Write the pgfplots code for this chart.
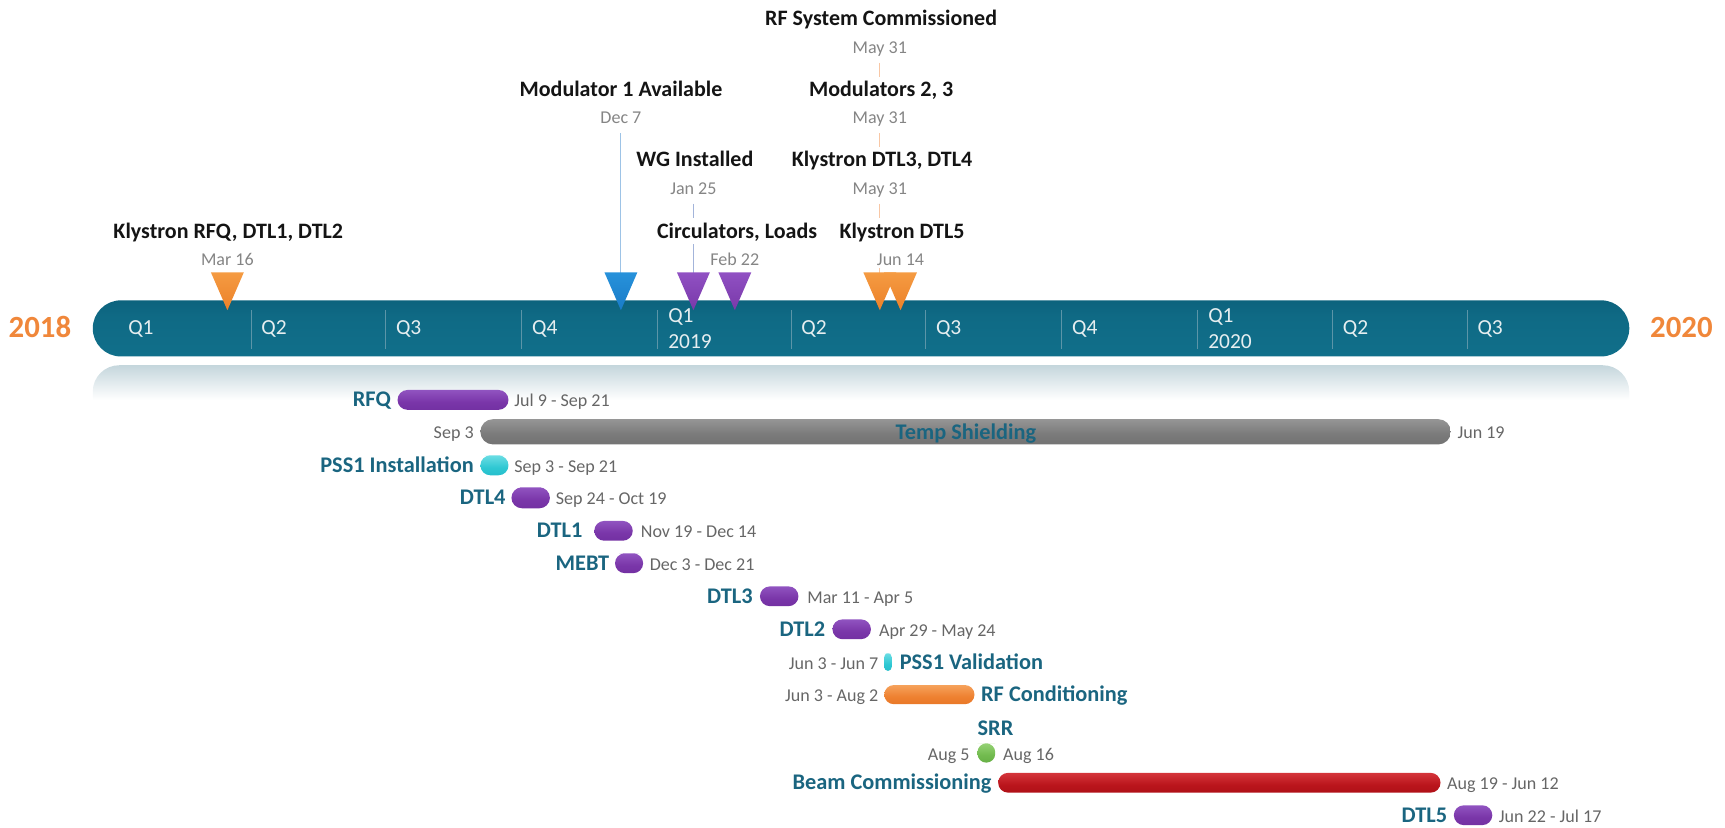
\documentclass[border=0pt]{standalone}
\usepackage{fontspec}
\setmainfont{Carlito}
\usepackage{pgfplots}
\pgfplotsset{compat=1.18}

% colours
\definecolor{tlE}{HTML}{0C5F7A}
\definecolor{tlL}{HTML}{11718C}
\definecolor{tlM}{HTML}{0F6A85}
\definecolor{tlD}{HTML}{0A5770}
\definecolor{reflC}{HTML}{8AADBA}
\definecolor{sepC}{HTML}{5C95A8}
\definecolor{qC}{HTML}{E6EEF0}
\definecolor{yearC}{HTML}{F0873A}
\definecolor{labC}{HTML}{141414}
\definecolor{dTop}{HTML}{858585}
\definecolor{dLow}{HTML}{666666}
\definecolor{taskC}{HTML}{1A6580}
\definecolor{lnB}{HTML}{9DC3E6}
\definecolor{lnP}{HTML}{A3B4DA}
\definecolor{lnO}{HTML}{F8C7A5}
\definecolor{purD}{HTML}{6A2A9A}
\definecolor{purM}{HTML}{7A36A9}
\definecolor{purL}{HTML}{9458C4}
\definecolor{gryD}{HTML}{6A6A6A}
\definecolor{gryM}{HTML}{7A7A7A}
\definecolor{gryL}{HTML}{9A9A9A}
\definecolor{cyD}{HTML}{1AB3C2}
\definecolor{cyM}{HTML}{2FC8D3}
\definecolor{cyL}{HTML}{74E0E6}
\definecolor{orD}{HTML}{E26F1C}
\definecolor{orM}{HTML}{EE8131}
\definecolor{orL}{HTML}{F7A762}
\definecolor{redD}{HTML}{A30C12}
\definecolor{redM}{HTML}{BA151C}
\definecolor{redL}{HTML}{D93A40}
\definecolor{grD}{HTML}{5AA23A}
\definecolor{grM}{HTML}{72BB4F}
\definecolor{grL}{HTML}{9AD57A}
\definecolor{toL}{HTML}{F9A84F}
\definecolor{toD}{HTML}{E8741C}
\definecolor{tbL}{HTML}{2E9DE4}
\definecolor{tbD}{HTML}{1270BE}
\definecolor{tpL}{HTML}{9D5DD0}
\definecolor{tpD}{HTML}{6C2C9C}

\pgfdeclareverticalshading{tlS}{100bp}{color(0bp)=(tlE); color(12bp)=(tlL); color(60bp)=(tlM); color(100bp)=(tlD)}
\pgfdeclareverticalshading{reflS}{100bp}{color(0bp)=(white); color(50bp)=(white); color(100bp)=(reflC)}
\pgfdeclareverticalshading{purS}{100bp}{color(0bp)=(purD); color(45bp)=(purM); color(80bp)=(purL); color(100bp)=(purM)}
\pgfdeclareverticalshading{gryS}{100bp}{color(0bp)=(gryD); color(45bp)=(gryM); color(80bp)=(gryL); color(100bp)=(gryM)}
\pgfdeclareverticalshading{cyS}{100bp}{color(0bp)=(cyD); color(45bp)=(cyM); color(80bp)=(cyL); color(100bp)=(cyM)}
\pgfdeclareverticalshading{orS}{100bp}{color(0bp)=(orD); color(45bp)=(orM); color(80bp)=(orL); color(100bp)=(orM)}
\pgfdeclareverticalshading{redS}{100bp}{color(0bp)=(redD); color(45bp)=(redM); color(80bp)=(redL); color(100bp)=(redM)}
\pgfdeclareverticalshading{grS}{100bp}{color(0bp)=(grD); color(45bp)=(grM); color(80bp)=(grL); color(100bp)=(grM)}
\pgfdeclareverticalshading{toS}{100bp}{color(0bp)=(toD); color(100bp)=(toL)}
\pgfdeclareverticalshading{tbS}{100bp}{color(0bp)=(tbD); color(100bp)=(tbL)}
\pgfdeclareverticalshading{tpS}{100bp}{color(0bp)=(tpD); color(100bp)=(tpL)}

\newcommand\fMile{\fontsize{20}{24}\selectfont\bfseries}
\newcommand\fDate{\fontsize{16.4}{20}\selectfont}
\newcommand\fTask{\fontsize{20.3}{24}\selectfont\bfseries}
\newcommand\fQ{\fontsize{19.5}{23}\selectfont}
\newcommand\fYear{\fontsize{28}{32}\selectfont\bfseries}

\tikzset{lb/.style={inner sep=0pt, outer sep=0pt},
  ml/.style={lb, font=\fMile, text=labC, anchor=mid},
  md/.style={lb, font=\fDate, text=dTop, anchor=mid},
  tl/.style={lb, font=\fTask, text=taskC},
  td/.style={lb, font=\fDate, text=dLow},
  ql/.style={lb, font=\fQ, text=qC, anchor=mid west}}

\begin{document}
\begin{tikzpicture}
\begin{axis}[width=1568pt, height=752pt, scale only axis,
  xmin=-79.7, xmax=1086.3, ymin=0, ymax=752, y dir=reverse,
  hide axis, clip=false]

% x = days since 1 Jan 2018, y = vertical position (top = 0)

% reflection under the timeline
\addplot[draw=none, shade, shading=reflS, rounded corners=24pt]
  coordinates {(500,332) (1021.6,332) (1021.6,395) (-17,395) (-17,332)} -- cycle;
% timeline bar
\addplot[draw=none, shade, shading=tlS, rounded corners=25.5pt]
  coordinates {(500,273) (1021.6,273) (1021.6,324) (-17,324) (-17,273)} -- cycle;

% quarter separators
\addplot[sepC, line width=1pt] coordinates {(90,282) (90,317)};
\addplot[sepC, line width=1pt] coordinates {(181,282) (181,317)};
\addplot[sepC, line width=1pt] coordinates {(273,282) (273,317)};
\addplot[sepC, line width=1pt] coordinates {(365,282) (365,317)};
\addplot[sepC, line width=1pt] coordinates {(455,282) (455,317)};
\addplot[sepC, line width=1pt] coordinates {(546,282) (546,317)};
\addplot[sepC, line width=1pt] coordinates {(638,282) (638,317)};
\addplot[sepC, line width=1pt] coordinates {(730,282) (730,317)};
\addplot[sepC, line width=1pt] coordinates {(821,282) (821,317)};
\addplot[sepC, line width=1pt] coordinates {(912,282) (912,317)};

% quarter labels
\node[ql] at (axis cs:7,302) {Q1};
\node[ql] at (axis cs:97,302) {Q2};
\node[ql] at (axis cs:188,302) {Q3};
\node[ql] at (axis cs:280,302) {Q4};
\node[ql] at (axis cs:372,291) {Q1};
\node[ql] at (axis cs:372,314) {2019};
\node[ql] at (axis cs:462,302) {Q2};
\node[ql] at (axis cs:553,302) {Q3};
\node[ql] at (axis cs:645,302) {Q4};
\node[ql] at (axis cs:737,291) {Q1};
\node[ql] at (axis cs:737,314) {2020};
\node[ql] at (axis cs:828,302) {Q2};
\node[ql] at (axis cs:919,302) {Q3};

% years
\node[lb, font=\fYear, text=yearC, anchor=mid west] at (axis cs:-73.8,304) {2018};
\node[lb, font=\fYear, text=yearC, anchor=mid west] at (axis cs:1035.7,304) {2020};

% leader lines
\addplot[lnB, line width=1pt] coordinates {(340,121) (340,252)};
\addplot[lnP, line width=1pt] coordinates {(389,185) (389,198)};
\addplot[lnP, line width=1pt] coordinates {(389,222) (389,252)};
\addplot[lnO, line width=1pt] coordinates {(515,57) (515,70)};
\addplot[lnO, line width=1pt] coordinates {(515,121) (515,134)};
\addplot[lnO, line width=1pt] coordinates {(515,185) (515,198)};
\addplot[lnO, line width=1pt] coordinates {(515,244) (515,252)};

% milestone triangles
\addplot[draw=none, shade, shading=toS] coordinates {(62.85,247.5) (85.15,247.5) (74,282)} -- cycle;
\addplot[draw=none, shade, shading=tbS] coordinates {(328.85,247.5) (351.15,247.5) (340,282)} -- cycle;
\addplot[draw=none, shade, shading=tpS] coordinates {(377.85,247.5) (400.15,247.5) (389,282)} -- cycle;
\addplot[draw=none, shade, shading=tpS] coordinates {(405.85,247.5) (428.15,247.5) (417,282)} -- cycle;
\addplot[draw=none, shade, shading=toS] coordinates {(503.85,247.5) (526.15,247.5) (515,282)} -- cycle;
\addplot[draw=none, shade, shading=toS] coordinates {(517.85,247.5) (540.15,247.5) (529,282)} -- cycle;

% milestone labels
\node[ml] at (axis cs:515.9,21) {RF System Commissioned};
\node[md] at (axis cs:515,46) {May 31};
\node[ml] at (axis cs:340,85) {Modulator 1 Available};
\node[md] at (axis cs:340,110) {Dec 7};
\node[ml] at (axis cs:515.9,85) {Modulators 2, 3};
\node[md] at (axis cs:515,110) {May 31};
\node[ml] at (axis cs:390,149) {WG Installed};
\node[md] at (axis cs:389,174) {Jan 25};
\node[ml] at (axis cs:516.5,149) {Klystron DTL3, DTL4};
\node[md] at (axis cs:515,174) {May 31};
\node[ml] at (axis cs:74.6,214) {Klystron RFQ, DTL1, DTL2};
\node[md] at (axis cs:74,238.5) {Mar 16};
\node[ml] at (axis cs:418.5,214) {Circulators, Loads};
\node[md] at (axis cs:417,238.5) {Feb 22};
\node[ml] at (axis cs:530,214) {Klystron DTL5};
\node[md] at (axis cs:529,238.5) {Jun 14};

% task bars
\addplot[draw=none, shade, shading=purS, rounded corners=9pt]
  coordinates {(226.5,354.5) (264,354.5) (264,372.5) (189,372.5) (189,354.5)} -- cycle;
\addplot[draw=none, shade, shading=gryS, rounded corners=11.5pt]
  coordinates {(573,381) (901,381) (901,404) (245,404) (245,381)} -- cycle;
\addplot[draw=none, shade, shading=cyS, rounded corners=9pt]
  coordinates {(254.5,414) (264,414) (264,432) (245,432) (245,414)} -- cycle;
\addplot[draw=none, shade, shading=purS, rounded corners=9.5pt]
  coordinates {(279,443) (292,443) (292,462) (266,462) (266,443)} -- cycle;
\addplot[draw=none, shade, shading=purS, rounded corners=9pt]
  coordinates {(335,473.5) (348,473.5) (348,491.5) (322,491.5) (322,473.5)} -- cycle;
\addplot[draw=none, shade, shading=purS, rounded corners=9pt]
  coordinates {(345.5,503) (355,503) (355,521) (336,521) (336,503)} -- cycle;
\addplot[draw=none, shade, shading=purS, rounded corners=9pt]
  coordinates {(447,533) (460,533) (460,551) (434,551) (434,533)} -- cycle;
\addplot[draw=none, shade, shading=purS, rounded corners=9pt]
  coordinates {(496,563) (509,563) (509,581) (483,581) (483,563)} -- cycle;
\addplot[draw=none, shade, shading=cyS, rounded corners=3.3pt]
  coordinates {(520.5,593.8) (523,593.8) (523,609.8) (518,609.8) (518,593.8)} -- cycle;
\addplot[draw=none, shade, shading=orS, rounded corners=8.7pt]
  coordinates {(548.5,622.7) (579,622.7) (579,640.1) (518,640.1) (518,622.7)} -- cycle;
\addplot[draw=none, shade, shading=grS, rounded corners=8pt]
  coordinates {(587,675.8) (593,675.8) (593,693.2) (581,693.2) (581,675.8)} -- cycle;
\addplot[draw=none, shade, shading=redS, rounded corners=9pt]
  coordinates {(744.5,702.5) (894,702.5) (894,720.5) (595,720.5) (595,702.5)} -- cycle;
\addplot[draw=none, shade, shading=purS, rounded corners=9pt]
  coordinates {(916,732) (929,732) (929,750) (903,750) (903,732)} -- cycle;

% task labels and dates
\node[tl, anchor=mid east] at (axis cs:184.5,367) {RFQ};
\node[td, anchor=mid west] at (axis cs:268,367) {Jul 9 - Sep 21};
\node[td, anchor=mid east] at (axis cs:240.5,396.5) {Sep 3};
\node[tl, anchor=mid] at (axis cs:573.2,397) {Temp Shielding};
\node[td, anchor=mid west] at (axis cs:905.5,396.5) {Jun 19};
\node[tl, anchor=mid east] at (axis cs:240.5,427) {PSS1 Installation};
\node[td, anchor=mid west] at (axis cs:268,427) {Sep 3 - Sep 21};
\node[tl, anchor=mid east] at (axis cs:262,456.5) {DTL4};
\node[td, anchor=mid west] at (axis cs:296,456.5) {Sep 24 - Oct 19};
\node[tl, anchor=mid east] at (axis cs:314,486.5) {DTL1};
\node[td, anchor=mid west] at (axis cs:353.5,486.5) {Nov 19 - Dec 14};
\node[tl, anchor=mid east] at (axis cs:332,516) {MEBT};
\node[td, anchor=mid west] at (axis cs:359.5,516) {Dec 3 - Dec 21};
\node[tl, anchor=mid east] at (axis cs:429,546) {DTL3};
\node[td, anchor=mid west] at (axis cs:466,546) {Mar 11 - Apr 5};
\node[tl, anchor=mid east] at (axis cs:478,576) {DTL2};
\node[td, anchor=mid west] at (axis cs:514.5,576) {Apr 29 - May 24};
\node[td, anchor=mid east] at (axis cs:514,605.8) {Jun 3 - Jun 7};
\node[tl, anchor=mid west] at (axis cs:528.5,605.8) {PSS1 Validation};
\node[td, anchor=mid east] at (axis cs:514,635.4) {Jun 3 - Aug 2};
\node[tl, anchor=mid west] at (axis cs:583.5,635.4) {RF Conditioning};
\node[tl, anchor=mid] at (axis cs:593.2,666) {SRR};
\node[td, anchor=mid east] at (axis cs:575.6,688.5) {Aug 5};
\node[td, anchor=mid west] at (axis cs:598.4,688.5) {Aug 16};
\node[tl, anchor=mid east] at (axis cs:590.5,715.5) {Beam Commissioning};
\node[td, anchor=mid west] at (axis cs:898.5,715.5) {Aug 19 - Jun 12};
\node[tl, anchor=mid east] at (axis cs:898.5,745) {DTL5};
\node[td, anchor=mid west] at (axis cs:933.5,745) {Jun 22 - Jul 17};

\end{axis}
\pgfresetboundingbox
\path[use as bounding box] (0,0) rectangle (1568pt,752pt);
\end{tikzpicture}
\end{document}
